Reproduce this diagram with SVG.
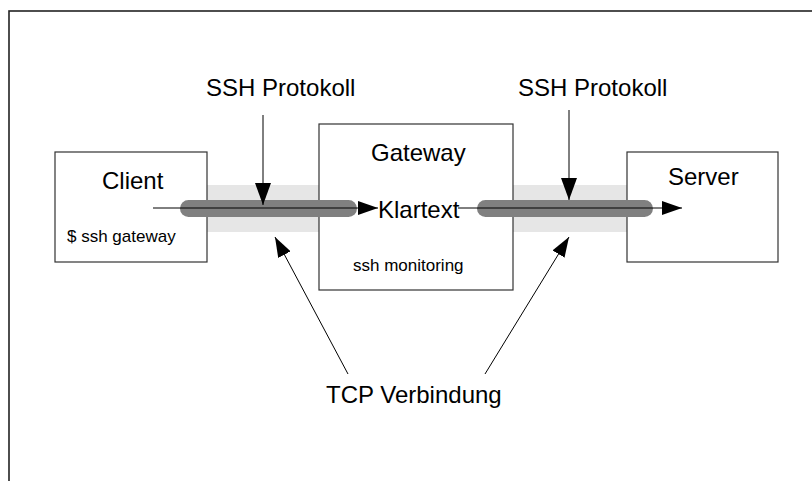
<svg xmlns="http://www.w3.org/2000/svg" width="812" height="481" viewBox="0 0 812 481">
<style>
text{font-family:"Liberation Sans",Arial,sans-serif;fill:#000}
.big{font-size:24px}
.small{font-size:17px}
.box{fill:#fff;stroke:#333;stroke-width:1.2}
.band{fill:#e6e6e6}
.pipe{stroke:#808080;stroke-width:17;stroke-linecap:round;fill:none}
.ln{stroke:#000;stroke-width:1;fill:none}
</style>
<defs>
<marker id="ah" viewBox="0 0 20 14" refX="20" refY="7" markerWidth="20" markerHeight="14" markerUnits="userSpaceOnUse" orient="auto">
<path d="M0,0 L20,7 L0,14 Z" fill="#000"/>
</marker>
<marker id="ahv" viewBox="0 0 22 16" refX="22" refY="8" markerWidth="22" markerHeight="16" markerUnits="userSpaceOnUse" orient="auto">
<path d="M0,0 L22,8 L0,16 Z" fill="#000"/>
</marker>
</defs>
<rect x="0" y="0" width="812" height="481" fill="#fff"/>
<rect x="9" y="11" width="900" height="600" fill="none" stroke="#222" stroke-width="1.6"/>
<rect class="band" x="207" y="185" width="112" height="47"/>
<rect class="band" x="513" y="185" width="114" height="47"/>
<g id="client">
<rect class="box" x="55" y="152" width="152" height="110"/>
<text class="big" x="102" y="189">Client</text>
<text class="small" x="67" y="242">$ ssh gateway</text>
</g>
<g id="gateway">
<rect class="box" x="319" y="124" width="194" height="166"/>
<text class="big" x="371" y="161">Gateway</text>
<text class="small" x="353" y="271">ssh monitoring</text>
</g>
<g id="server">
<rect class="box" x="627" y="152" width="151" height="110"/>
<text class="big" x="668" y="185">Server</text>
</g>
<g id="connectors">
<line class="pipe" x1="188.5" y1="208.5" x2="348.5" y2="208.5"/>
<line class="pipe" x1="485.5" y1="208.5" x2="644.5" y2="208.5"/>
<line class="ln" x1="153" y1="208" x2="378" y2="208" marker-end="url(#ah)"/>
<line class="ln" x1="458" y1="208" x2="682" y2="208" marker-end="url(#ah)"/>
<line class="ln" x1="263" y1="115" x2="263" y2="205" marker-end="url(#ahv)"/>
<line class="ln" x1="569" y1="110" x2="569" y2="200" marker-end="url(#ahv)"/>
<line class="ln" x1="348" y1="374" x2="275" y2="237" marker-end="url(#ah)"/>
<line class="ln" x1="485" y1="374" x2="569" y2="237" marker-end="url(#ah)"/>
</g>
<g id="labels">
<text class="big" x="378" y="218">Klartext</text>
<text class="big" x="206" y="96">SSH Protokoll</text>
<text class="big" x="518" y="96">SSH Protokoll</text>
<text class="big" x="326" y="403">TCP Verbindung</text>
</g>
</svg>
